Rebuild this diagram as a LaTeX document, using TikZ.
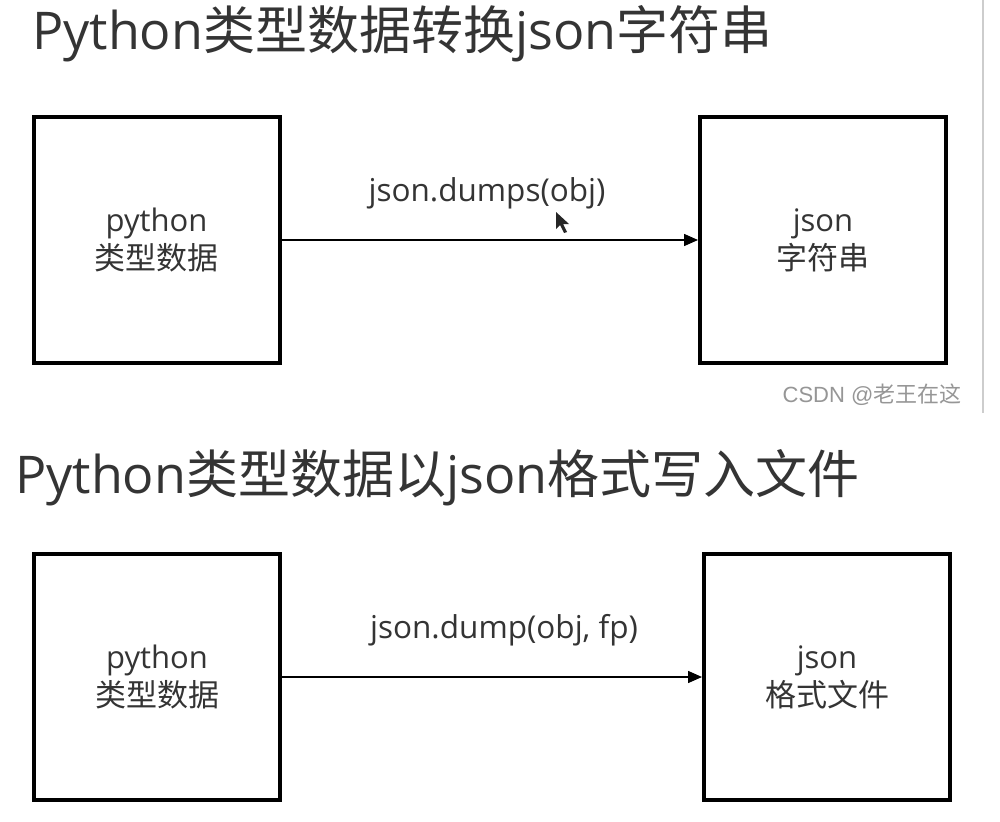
\documentclass[tikz,border=0pt]{standalone}
\usepackage{fontspec}
\setmainfont{Open Sans}
\newfontfamily\cjk{Noto Sans CJK SC}
\newfontfamily\wmfont{Liberation Sans}
\usetikzlibrary{arrows.meta}
\definecolor{txt}{RGB}{52,52,52}
\definecolor{wm}{RGB}{150,150,150}
\definecolor{edge}{RGB}{205,205,205}
\begin{document}
\begin{tikzpicture}[x=1pt,y=-1pt,
  box/.style={draw=black, line width=4pt, minimum width=246pt, minimum height=246pt,
    inner sep=0pt, text=txt, align=center, font=\fontsize{31}{38}\selectfont},
  conn/.style={line width=1.5pt, -{Triangle[length=14pt,width=12pt]}},
  lbl/.style={text=txt, inner sep=0pt, font=\fontsize{31.5}{36}\selectfont},
  title/.style={text=txt, inner sep=0pt, anchor=base west, font=\fontsize{52}{60}\selectfont},
  wmark/.style={text=wm, inner sep=0pt, font=\fontsize{22}{26}\selectfont}]
\useasboundingbox (0,0) rectangle (1000,821);
\fill[white] (0,0) rectangle (1000,821);
% top screenshot edge
\draw[edge, line width=1.5pt] (983,0) -- (983,413);

% ---- top part
\node[title] (t1) at (32,50) {Python{\cjk 类型数据转换}json{\cjk 字符串}};
\node[box] (a1) at (156.5,240) {python\\{\cjk 类型数据}};
\node[box] (b1) at (823,240) {json\\{\cjk 字符串}};
\draw[conn] (a1.east) -- (b1.west);
\node[lbl] (l1) at (487,193) {json.dumps(obj)};
\node[wmark] (w1) at (872,395) {\wmfont CSDN @{\cjk 老王在这}};
% mouse pointer
\fill[black!85] (556,212) -- (556,229) -- (560,225) -- (564,233) -- (567,232)
  -- (563,224) -- (569,224) -- cycle;

% ---- bottom part
\node[title] (t2) at (15,493) {Python{\cjk 类型数据以}json{\cjk 格式写入文件}};
\node[box] (a2) at (157,677) {python\\{\cjk 类型数据}};
\node[box] (b2) at (827,677) {json\\{\cjk 格式文件}};
\draw[conn] (a2.east) -- (b2.west);
\node[lbl] (l2) at (504,630) {json.dump(obj, fp)};
\end{tikzpicture}
\end{document}
